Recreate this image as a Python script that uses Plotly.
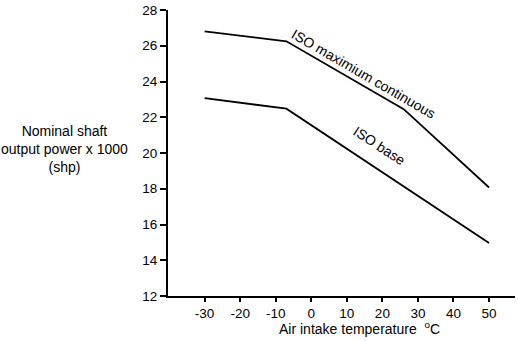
import plotly.graph_objects as go

# Data
temp_max = [-30, -7, 26, 50]
power_max = [26.8, 26.25, 22.45, 18.07]
temp_base = [-30, -7, 50]
power_base = [23.07, 22.48, 14.96]

x_ticks = [-30, -20, -10, 0, 10, 20, 30, 40, 50]
y_ticks = [12, 14, 16, 18, 20, 22, 24, 26, 28]

FONT = "Liberation Sans, Arial, sans-serif"

fig = go.Figure()
fig.add_trace(go.Scatter(x=temp_max, y=power_max, mode="lines",
                         line=dict(color="black", width=1.8), showlegend=False))
fig.add_trace(go.Scatter(x=temp_base, y=power_base, mode="lines",
                         line=dict(color="black", width=1.8), showlegend=False))

fig.add_annotation(x=14.8, y=24.44, text="ISO maximium continuous", textangle=30,
                   showarrow=False, font=dict(family=FONT, size=14, color="black"))
fig.add_annotation(x=19.3, y=20.39, text="ISO base", textangle=33,
                   showarrow=False, font=dict(family=FONT, size=14, color="black"))

fig.add_annotation(xref="paper", yref="paper", x=-0.297, y=0.514,
                   xanchor="center", yanchor="middle",
                   text="Nominal shaft<br>output power x 1000<br>(shp)",
                   showarrow=False, align="center",
                   font=dict(family=FONT, size=14, color="black"))
fig.add_annotation(xref="paper", yref="paper", x=0.553, y=-0.112,
                   xanchor="center", yanchor="middle",
                   text="Air intake temperature\u00a0\u00a0<sup>o</sup>C",
                   showarrow=False,
                   font=dict(family=FONT, size=14, color="black"))

fig.update_xaxes(range=[-40.3, 57.3], tickvals=x_ticks, ticktext=[str(v) for v in x_ticks],
                 showline=True, linecolor="black", linewidth=2, ticks="outside",
                 ticklen=4, tickwidth=1.5, tickcolor="black", showgrid=False, zeroline=False,
                 tickfont=dict(family=FONT, size=13.5, color="black"))
fig.update_yaxes(range=[12, 28], tickvals=y_ticks, ticktext=[str(v) for v in y_ticks],
                 showline=True, linecolor="black", linewidth=2, ticks="outside",
                 ticklen=6, tickwidth=1.5, tickcolor="black", showgrid=False, zeroline=False,
                 tickfont=dict(family=FONT, size=13.5, color="black"))

fig.update_layout(width=518, height=341, margin=dict(l=168, r=3, t=8, b=45),
                  plot_bgcolor="white", paper_bgcolor="white")

fig.write_html("out.html")
